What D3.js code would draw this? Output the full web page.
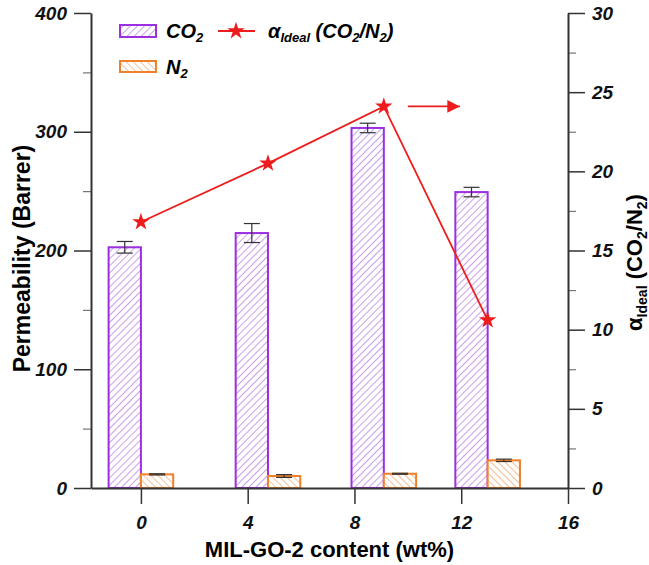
<!DOCTYPE html>
<html><head><meta charset="utf-8">
<script src="https://cdn.jsdelivr.net/npm/d3@7"></script>
<style>
body{margin:0;background:#fff;}
svg text{font-family:"Liberation Sans",Arial,sans-serif;}
</style></head>
<body><svg id="c" width="649" height="565"></svg>
<script>
// ---- data ----
const tickLabels = [0, 4, 8, 12, 16];
const xPos = [0, 4.76, 9.1, 12.99];          // group centres on the x axis
const co2 = [202.7, 214.7, 303.2, 249.2];
const co2Err = [4.9, 8.0, 4.0, 4.0];
const n2 = [11.5, 10.1, 12.0, 23.3];
const n2Err = [0.5, 1.2, 0.4, 1.0];
const alpha = [16.8, 20.5, 24.1, 10.6];
const leftTicks = [0, 100, 200, 300, 400];
const rightTicks = [0, 5, 10, 15, 20, 25, 30];

const svg = d3.select("#c");
const L = 91, R = 568, T = 13, B = 488;
const x = d3.scaleLinear().domain([-1.87, 16]).range([L, R]);
const y = d3.scaleLinear().domain([0, 400]).range([B, T]);
const y2 = d3.scaleLinear().domain([0, 30]).range([B, T]);
const bw = 32.3 / (x(1) - x(0)); // bar width in data units

const CO2C = "#9c2fe0", N2C = "#f0802a";
const defs = svg.append("defs");
function hatch(id, color, angle) {
  const p = defs.append("pattern").attr("id", id).attr("patternUnits", "userSpaceOnUse")
    .attr("width", 5).attr("height", 5).attr("patternTransform", `rotate(${angle})`);
  p.append("rect").attr("width", 5).attr("height", 5).attr("fill", "#fff");
  p.append("line").attr("x1", 0).attr("y1", 0).attr("x2", 0).attr("y2", 5)
    .attr("stroke", color).attr("stroke-width", 1.4);
}
hatch("hCO2", "#b374e6", 45);
hatch("hN2", "#f4a468", -45);

// bars
const g = svg.append("g");
function bars(vals, errs, off, fillId, stroke) {
  vals.forEach((v, i) => {
    const x0 = x(xPos[i] + off), x1 = x(xPos[i] + off + bw);
    g.append("rect").attr("x", x0).attr("y", y(v)).attr("width", x1 - x0).attr("height", B - y(v))
      .attr("fill", `url(#${fillId})`).attr("stroke", stroke).attr("stroke-width", 2);
    const cx = (x0 + x1) / 2, e = errs[i];
    const eg = g.append("g").attr("stroke", "#333").attr("stroke-width", 1.2);
    eg.append("line").attr("x1", cx).attr("x2", cx).attr("y1", y(v + e)).attr("y2", y(v - e));
    eg.append("line").attr("x1", cx - 8).attr("x2", cx + 8).attr("y1", y(v + e)).attr("y2", y(v + e));
    eg.append("line").attr("x1", cx - 8).attr("x2", cx + 8).attr("y1", y(v - e)).attr("y2", y(v - e));
  });
}
bars(co2, co2Err, -bw, "hCO2", CO2C);
bars(n2, n2Err, 0, "hN2", N2C);

// axes
const axC = "#333";
function styleAxis(sel) {
  sel.select(".domain").attr("stroke", axC).attr("stroke-width", 2);
  sel.selectAll(".tick line").attr("stroke", axC).attr("stroke-width", 1.5);
  sel.selectAll("text").attr("font-size", 19).attr("font-weight", "bold").attr("font-style", "italic").attr("fill", "#111");
}
const xa = svg.append("g").attr("transform", `translate(0,${B})`)
  .call(d3.axisBottom(x).tickValues(tickLabels).tickSize(16).tickSizeOuter(0).tickPadding(12).tickFormat(d3.format("d")));
styleAxis(xa);
const yaMinor = svg.append("g").attr("transform", `translate(${L},0)`)
  .call(d3.axisLeft(y).tickValues([50, 150, 250, 350]).tickSize(8).tickFormat(""));
yaMinor.select(".domain").remove();
yaMinor.selectAll("line").attr("stroke", "#777").attr("stroke-width", 1.2);
const ya = svg.append("g").attr("transform", `translate(${L},0)`)
  .call(d3.axisLeft(y).tickValues(leftTicks).tickSize(17).tickSizeOuter(0).tickPadding(7));
styleAxis(ya);
const y2Minor = svg.append("g").attr("transform", `translate(${R},0)`)
  .call(d3.axisRight(y2).tickValues([2.5, 7.5, 12.5, 17.5, 22.5, 27.5]).tickSize(8).tickFormat(""));
y2Minor.select(".domain").remove();
y2Minor.selectAll("line").attr("stroke", "#777").attr("stroke-width", 1.2);
const y2a = svg.append("g").attr("transform", `translate(${R},0)`)
  .call(d3.axisRight(y2).tickValues(rightTicks).tickSize(17).tickSizeOuter(0).tickPadding(7));
styleAxis(y2a);

// alpha line
const red = "#ee1c1c";
const pts = alpha.map((a, i) => [x(xPos[i]), y2(a)]);
svg.append("path").attr("d", d3.line()(pts)).attr("fill", "none").attr("stroke", red).attr("stroke-width", 1.8);
const star = d3.symbol().type(d3.symbolStar).size(95);
pts.forEach(p => svg.append("path").attr("d", star()).attr("transform", `translate(${p[0]},${p[1]})`).attr("fill", red));

// arrow toward right axis
const ay = y2(alpha[2]);
defs.append("marker").attr("id", "ah").attr("viewBox", "0 0 10 10").attr("refX", 10).attr("refY", 5)
  .attr("markerWidth", 7).attr("markerHeight", 7).attr("markerUnits", "strokeWidth").attr("orient", "auto")
  .append("path").attr("d", "M0,0 L10,5 L0,10 Z").attr("fill", red);
svg.append("line").attr("x1", x(10)).attr("x2", x(11.95)).attr("y1", ay).attr("y2", ay)
  .attr("stroke", red).attr("stroke-width", 1.8).attr("marker-end", "url(#ah)");

// titles
svg.append("text").attr("x", (L + R) / 2).attr("y", 557).attr("text-anchor", "middle")
  .attr("font-size", 22).attr("font-weight", "bold").text("MIL-GO-2 content (wt%)");
svg.append("text").attr("transform", `translate(30,${(T + B) / 2 + 8}) rotate(-90)`).attr("text-anchor", "middle")
  .attr("font-size", 23).attr("font-weight", "bold").text("Permeability (Barrer)");
const rt = svg.append("text").attr("transform", `translate(642,${(T + B) / 2 + 12}) rotate(-90)`).attr("text-anchor", "middle")
  .attr("font-size", 22).attr("font-weight", "bold");
rt.append("tspan").text("α");
rt.append("tspan").attr("font-size", 14).attr("dy", 5).text("Ideal");
rt.append("tspan").attr("dy", -5).text(" (CO");
rt.append("tspan").attr("font-size", 14).attr("dy", 5).text("2");
rt.append("tspan").attr("dy", -5).text("/N");
rt.append("tspan").attr("font-size", 14).attr("dy", 5).text("2");
rt.append("tspan").attr("dy", -5).text(")");

// legend
const lg = svg.append("g").attr("font-weight", "bold").attr("font-style", "italic");
lg.append("rect").attr("x", 120).attr("y", 25).attr("width", 36).attr("height", 12)
  .attr("fill", "url(#hCO2)").attr("stroke", CO2C).attr("stroke-width", 2);
lg.append("rect").attr("x", 120).attr("y", 61).attr("width", 36).attr("height", 11)
  .attr("fill", "url(#hN2)").attr("stroke", N2C).attr("stroke-width", 2);
function sub(x0, y0, main, s) {
  const tx = lg.append("text").attr("x", x0).attr("y", y0).attr("font-size", 20);
  tx.append("tspan").text(main);
  tx.append("tspan").attr("font-size", 13).attr("dy", 4).text(s);
  return tx;
}
sub(166, 38, "CO", "2");
sub(166, 74, "N", "2");
lg.append("line").attr("x1", 218).attr("x2", 255).attr("y1", 31).attr("y2", 31).attr("stroke", red).attr("stroke-width", 1.8);
lg.append("path").attr("d", star()).attr("transform", "translate(236,31)").attr("fill", red);
const at = lg.append("text").attr("x", 268).attr("y", 38).attr("font-size", 20);
at.append("tspan").text("α");
at.append("tspan").attr("font-size", 13).attr("dy", 4).text("Ideal");
at.append("tspan").attr("dy", -4).text(" (CO");
at.append("tspan").attr("font-size", 13).attr("dy", 4).text("2");
at.append("tspan").attr("dy", -4).text("/N");
at.append("tspan").attr("font-size", 13).attr("dy", 4).text("2");
at.append("tspan").attr("dy", -4).text(")");
</script></body></html>
